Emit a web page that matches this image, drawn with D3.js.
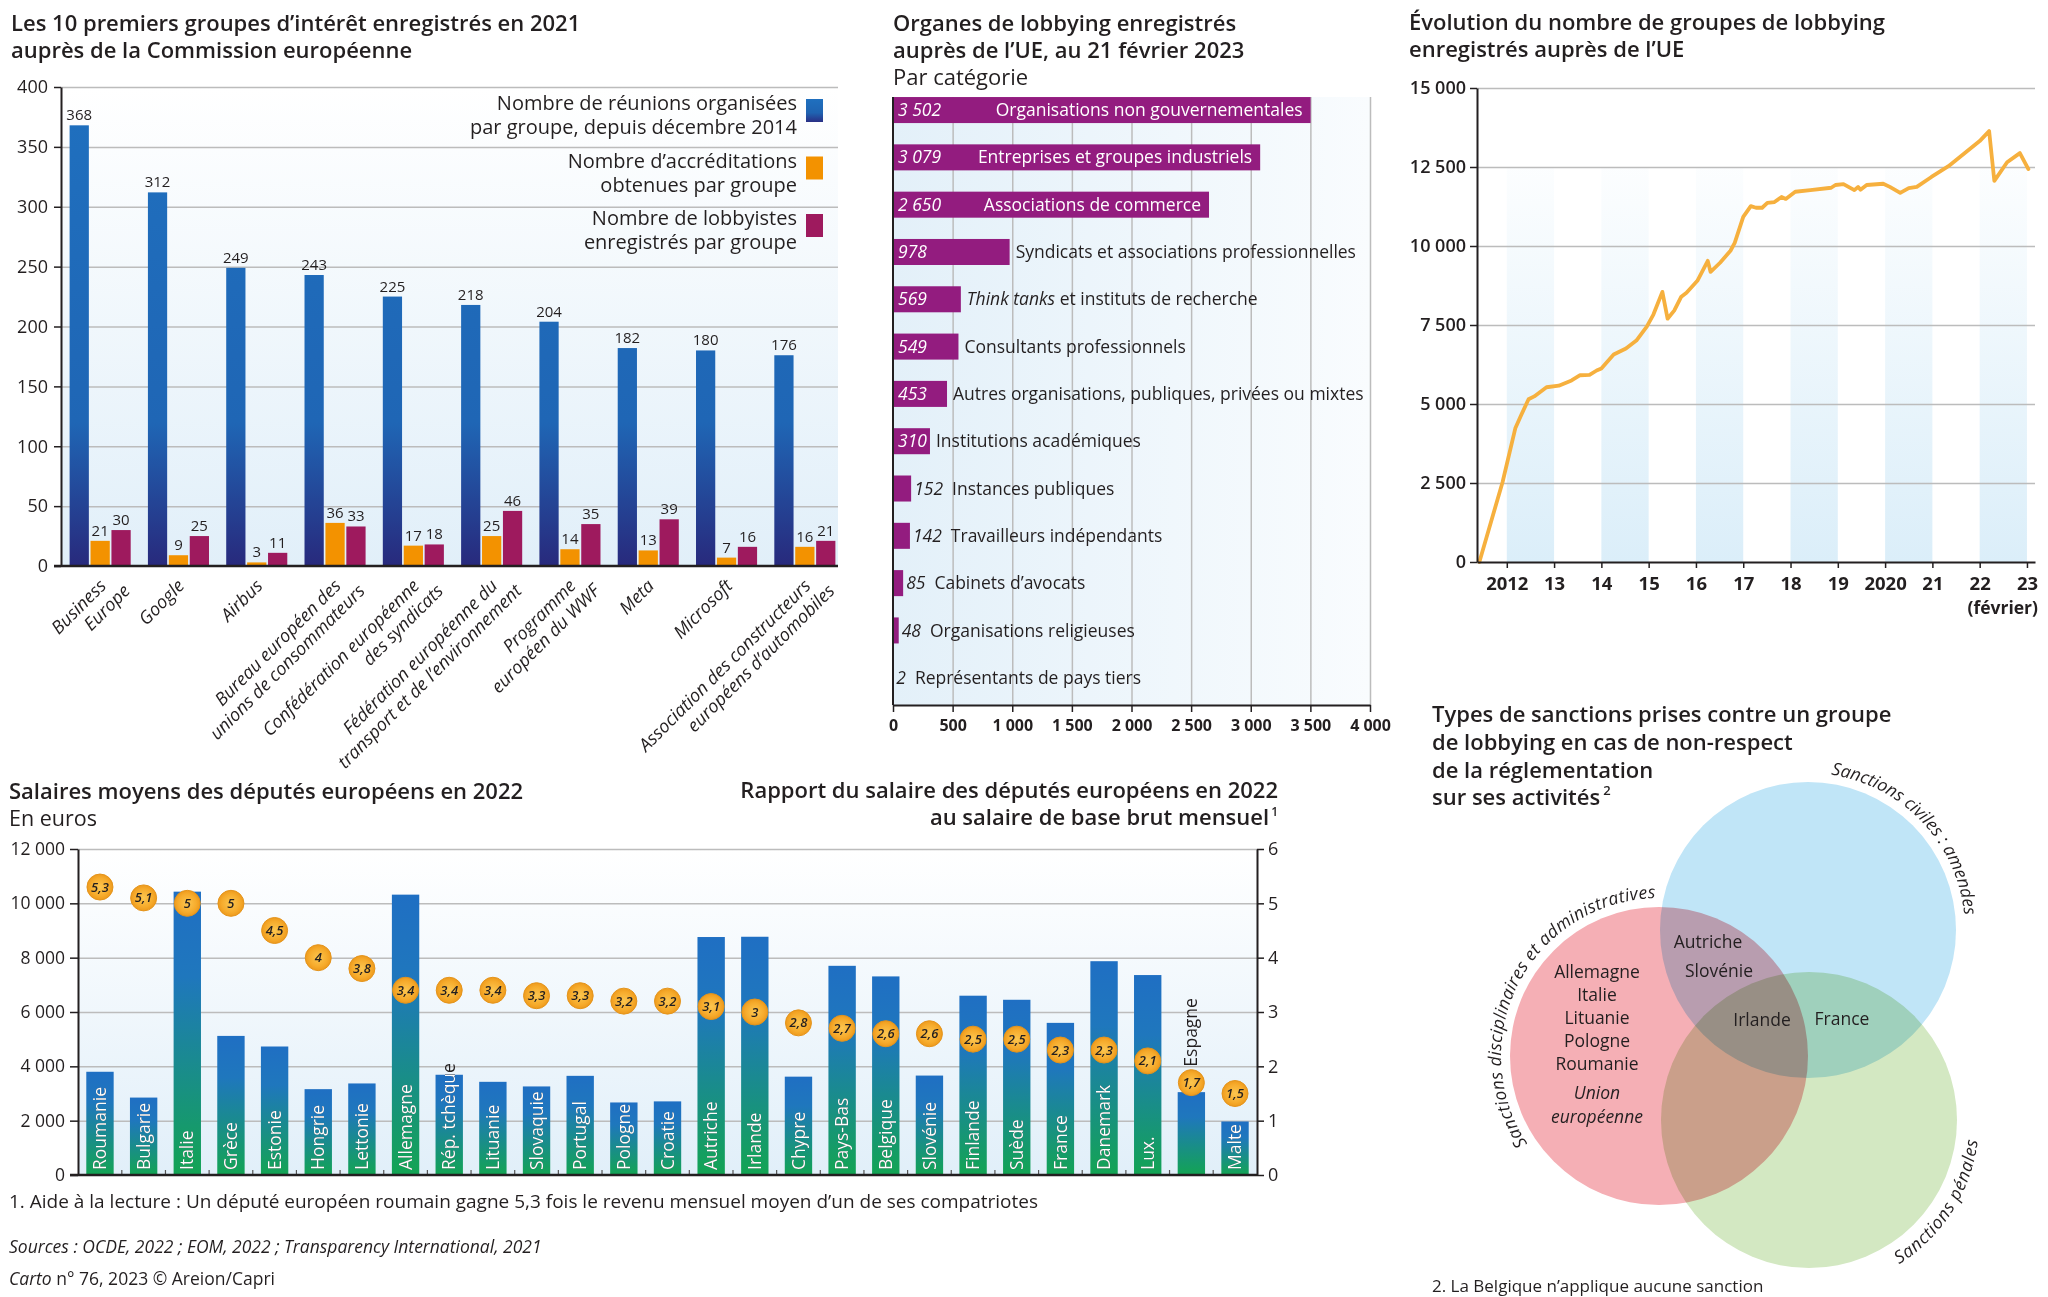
<!DOCTYPE html>
<html lang="fr">
<head>
<meta charset="utf-8">
<title>Lobbying et institutions européennes</title>
<script src="https://d3js.org/d3.v7.min.js"></script>
<style>
  body { margin: 0; background: #fff; }
  svg { display: block; }
</style>
</head>
<body>
<svg id="chart" width="2048" height="1297"></svg>
<script>
// ---- données : 10 premiers groupes d'intérêt (2021)
var groupLabels = [
  ["Business", "Europe"], ["Google"], ["Airbus"],
  ["Bureau européen des", "unions de consommateurs"],
  ["Confédération européenne", "des syndicats"],
  ["Fédération européenne du", "transport et de l’environnement"],
  ["Programme", "européen du WWF"], ["Meta"], ["Microsoft"],
  ["Association des constructeurs", "européens d’automobiles"]
];
var reunions       = [368, 312, 249, 243, 225, 218, 204, 182, 180, 176];
var accreditations = [21, 9, 3, 36, 17, 25, 14, 13, 7, 16];
var lobbyistes     = [30, 25, 11, 33, 18, 46, 35, 39, 16, 21];
var legendLabels = [
  ["Nombre de réunions organisées", "par groupe, depuis décembre 2014"],
  ["Nombre d’accréditations", "obtenues par groupe"],
  ["Nombre de lobbyistes", "enregistrés par groupe"]
];

// ---- données : organes de lobbying par catégorie (21 février 2023)
var categories = [
  "Organisations non gouvernementales", "Entreprises et groupes industriels",
  "Associations de commerce", "Syndicats et associations professionnelles",
  "Think tanks et instituts de recherche", "Consultants professionnels",
  "Autres organisations, publiques, privées ou mixtes", "Institutions académiques",
  "Instances publiques", "Travailleurs indépendants", "Cabinets d’avocats",
  "Organisations religieuses", "Représentants de pays tiers"
];
var categoryCounts = [3502, 3079, 2650, 978, 569, 549, 453, 310, 152, 142, 85, 48, 2];

// ---- données : évolution du nombre de groupes enregistrés
var lineYears = [2011.42, 2011.91, 2012.18, 2012.31, 2012.46, 2012.58, 2012.84, 2013.1, 2013.37,
  2013.55, 2013.75, 2013.9, 2014.0, 2014.26, 2014.52, 2014.74, 2014.96, 2015.1, 2015.29, 2015.4,
  2015.54, 2015.69, 2015.8, 2016.03, 2016.25, 2016.31, 2016.51, 2016.73, 2016.82, 2017.0, 2017.16,
  2017.27, 2017.4, 2017.51, 2017.66, 2017.81, 2017.9, 2018.1, 2018.42, 2018.86, 2018.95, 2019.12,
  2019.35, 2019.43, 2019.48, 2019.61, 2019.96, 2020.1, 2020.32, 2020.5, 2020.67, 2020.98, 2021.34,
  2022.0, 2022.2, 2022.31, 2022.58, 2022.85, 2023.03];
var lineCounts = [0, 2525, 4230, 4670, 5150, 5240, 5530, 5580, 5745,
  5910, 5920, 6060, 6125, 6565, 6755, 7007, 7450, 7830, 8548, 7700,
  7955, 8397, 8523, 8900, 9530, 9180, 9470, 9850, 10100, 10920, 11260,
  11210, 11210, 11363, 11390, 11553, 11490, 11717, 11767, 11843, 11930, 11957,
  11767, 11870, 11780, 11930, 11970, 11870, 11680, 11830, 11870, 12185, 12525,
  13320, 13636, 12060, 12650, 12940, 12436];
var yearTicks = [2012, 2013, 2014, 2015, 2016, 2017, 2018, 2019, 2020, 2021, 2022, 2023];
var yearTickLabels = ["2012", "13", "14", "15", "16", "17", "18", "19", "2020", "21", "22", "23"];

// ---- données : salaires des députés européens (2022)
var countries = ["Roumanie", "Bulgarie", "Italie", "Grèce", "Estonie", "Hongrie", "Lettonie",
  "Allemagne", "Rép. tchèque", "Lituanie", "Slovaquie", "Portugal", "Pologne", "Croatie",
  "Autriche", "Irlande", "Chypre", "Pays-Bas", "Belgique", "Slovénie", "Finlande", "Suède",
  "France", "Danemark", "Lux.", "Espagne", "Malte"];
var salaires = [3800, 2850, 10430, 5120, 4730, 3160, 3370, 10320, 3690, 3430, 3260, 3650, 2670,
  2710, 8760, 8770, 3620, 7700, 7310, 3660, 6600, 6450, 5600, 7870, 7360, 3050, 1970];
var ratios = [5.3, 5.1, 5, 5, 4.5, 4, 3.8, 3.4, 3.4, 3.4, 3.3, 3.3, 3.2, 3.2, 3.1, 3, 2.8, 2.7,
  2.6, 2.6, 2.5, 2.5, 2.3, 2.3, 2.1, 1.7, 1.5];

// ---- données : types de sanctions
var sanctionSets = ["Sanctions civiles : amendes", "Sanctions disciplinaires et administratives", "Sanctions pénales"];
var onlyDisciplinary = ["Allemagne", "Italie", "Lituanie", "Pologne", "Roumanie"];
var onlyDisciplinaryItalic = ["Union", "européenne"];
var disciplinaryCivil = ["Autriche", "Slovénie"];
var allThree = ["Irlande"];
var civilPenal = ["France"];

var FONT = '"Open Sans", "Noto Sans", "DejaVu Sans", sans-serif';
var INK = "#231f20";
var fr = d3.formatLocale({decimal: ",", thousands: "\u00a0", grouping: [3], currency: ["", " €"]});
var fmtInt = fr.format(",d");
var fmtDec = fr.format(",");

var svg = d3.select("#chart").attr("font-family", FONT);
var defs = svg.append("defs");
svg.append("rect").attr("width", 2048).attr("height", 1297).attr("fill", "#fff");

function linGrad(id, x1, y1, x2, y2, stops, user) {
  var g = defs.append("linearGradient").attr("id", id)
    .attr("x1", x1).attr("y1", y1).attr("x2", x2).attr("y2", y2);
  if (user) g.attr("gradientUnits", "userSpaceOnUse");
  stops.forEach(function(s) {
    g.append("stop").attr("offset", s[0]).attr("stop-color", s[1])
      .attr("stop-opacity", s.length > 2 ? s[2] : 1);
  });
}
linGrad("bgV", 0, 0, 0, 1, [[0, "#ffffff"], [1, "#e1eff9"]]);
linGrad("bgH", 0, 0, 1, 0, [[0, "#e3f0f9"], [1, "#f9fcfe"]]);
linGrad("blueA", 0, 566, 0, 87, [[0, "#28297c"], [0.3, "#1f66b5"], [1, "#1f70bf"]], true);
linGrad("blueLeg", 0, 0, 0, 1, [[0, "#1f70bf"], [0.6, "#1f63b1"], [1, "#2a2f85"]]);
linGrad("salG", 0, 0, 0, 1, [[0, "#1f6fc3"], [0.3, "#1f77bd"], [1, "#13a453"]]);
linGrad("bandG", 0, 130, 0, 562, [[0, "#dbeef9", 0], [1, "#dbeef9", 1]], true);
var rg = defs.append("radialGradient").attr("id", "circG");
rg.append("stop").attr("offset", 0).attr("stop-color", "#fcc650");
rg.append("stop").attr("offset", 0.7).attr("stop-color", "#f6ab2c");
rg.append("stop").attr("offset", 1).attr("stop-color", "#ee9a1c");

function styleAxis(g, size, weight) {
  g.attr("font-family", FONT).attr("font-size", size).attr("font-weight", weight || 400);
  g.select(".domain").attr("stroke", INK).attr("stroke-width", 2);
  g.selectAll(".tick line").attr("stroke", INK).attr("stroke-width", 1.5);
  g.selectAll(".tick text").attr("fill", INK);
}
function gridStyle(g) {
  g.select(".domain").remove();
  g.selectAll(".tick line").attr("stroke", "#bcbcbc").attr("stroke-width", 1.5);
}
function titleLines(lines, x, y0, lh, anchor) {
  var t = svg.append("g").attr("fill", INK).attr("font-size", 22).attr("font-weight", 600)
    .attr("text-anchor", anchor || "start");
  lines.forEach(function(l, i) { t.append("text").attr("x", x).attr("y", y0 + i * lh).text(l); });
  return t;
}

// =============== 1. Groupes d'intérêt ===============
(function() {
  var L = 61, R = 844, T = 87, B = 566, gridR = 838;
  titleLines(["Les 10 premiers groupes d’intérêt enregistrés en 2021", "auprès de la Commission européenne"], 11, 31, 27);
  var x = d3.scaleBand().domain(d3.range(groupLabels.length)).range([L, R]).paddingInner(0.22).paddingOuter(0.11);
  var xs = d3.scaleBand().domain([0, 1, 2]).range([0, x.bandwidth()]).paddingInner(0.08);
  var y = d3.scaleLinear().domain([0, 400]).range([B, T]);
  var series = [reunions, accreditations, lobbyistes];
  var fills = ["url(#blueA)", "#f39200", "#9e1a5e"];
  var legFills = ["url(#blueLeg)", "#f39200", "#9e1a5e"];
  var g = svg.append("g");
  g.append("rect").attr("x", L).attr("y", T).attr("width", gridR - L).attr("height", B - T).attr("fill", "url(#bgV)");
  g.append("g").attr("transform", "translate(" + L + ",0)")
    .call(d3.axisLeft(y).tickValues(d3.range(50, 401, 50)).tickSize(-(gridR - L)).tickFormat(""))
    .call(gridStyle);

  series.forEach(function(vals, s) {
    g.append("g").selectAll("rect").data(vals).enter().append("rect")
      .attr("x", function(d, i) { return x(i) + xs(s); })
      .attr("y", function(d) { return y(d); })
      .attr("width", xs.bandwidth())
      .attr("height", function(d) { return y(0) - y(d); })
      .attr("fill", fills[s]);
    g.append("g").attr("font-size", 15).attr("fill", INK).attr("text-anchor", "middle")
      .selectAll("text").data(vals).enter().append("text")
      .attr("x", function(d, i) { return x(i) + xs(s) + xs.bandwidth() / 2; })
      .attr("y", function(d) { return y(d) - 5; })
      .text(function(d) { return d; });
  });

  g.append("g").attr("transform", "translate(" + L + ",0)")
    .call(d3.axisLeft(y).tickValues(d3.range(0, 401, 50)).tickSize(7).tickSizeOuter(0).tickPadding(6))
    .call(styleAxis, 18);
  g.append("line").attr("x1", L - 7).attr("x2", gridR).attr("y1", B).attr("y2", B)
    .attr("stroke", INK).attr("stroke-width", 2.5);

  // légende
  var leg = g.append("g").attr("font-size", 20).attr("fill", INK);
  legendLabels.forEach(function(lines, i) {
    var top = 99 + i * 57.5;
    leg.append("rect").attr("x", 806).attr("y", top).attr("width", 17).attr("height", 23).attr("fill", legFills[i]);
    lines.forEach(function(l, j) {
      leg.append("text").attr("x", 797).attr("y", top + 11 + j * 24).attr("text-anchor", "end").text(l);
    });
  });

  // libellés inclinés
  var lab = g.append("g").attr("font-size", 18).attr("font-style", "italic").attr("fill", INK).attr("text-anchor", "end");
  groupLabels.forEach(function(lines, i) {
    var cx = x(i) + x.bandwidth() / 2 + 7;
    lines.forEach(function(l, j) {
      lab.append("text").attr("transform", "translate(" + (cx + j * 24) + "," + (587 + j * 5) + ") rotate(-45)").text(l);
    });
  });
})();

// =============== 2. Organes par catégorie ===============
(function() {
  var L = 893, R = 1370, T = 97, B = 705;
  titleLines(["Organes de lobbying enregistrés", "auprès de l’UE, au 21 février 2023"], L, 31, 27);
  svg.append("text").attr("x", L).attr("y", 85).attr("font-size", 22).attr("fill", INK).text("Par catégorie");
  var x = d3.scaleLinear().domain([0, 4000]).range([L, R]);
  var y = d3.scaleBand().domain(d3.range(categories.length)).range([86.4, 701.4]).paddingInner(0.45).paddingOuter(0.225);
  var g = svg.append("g");
  g.append("rect").attr("x", L).attr("y", T).attr("width", R - L).attr("height", B - T).attr("fill", "url(#bgH)");
  g.append("g").attr("transform", "translate(0," + B + ")")
    .call(d3.axisBottom(x).tickValues(d3.range(500, 4001, 500)).tickSize(-(B - T)).tickFormat(""))
    .call(gridStyle);
  g.append("g").attr("fill", "#931c7f").selectAll("rect").data(categoryCounts).enter().append("rect")
    .attr("x", x(0)).attr("y", function(d, i) { return y(i); })
    .attr("width", function(d) { return x(d) - x(0); }).attr("height", y.bandwidth());

  categoryCounts.forEach(function(v, i) {
    var cy = y(i) + y.bandwidth() / 2, end = x(v), big = v > 2000, mid = v >= 300;
    var val = g.append("text").attr("y", cy).attr("dy", "0.35em").attr("font-size", 17.5)
      .attr("font-style", "italic").text(fmtInt(v));
    var labX;
    if (mid) {
      val.attr("x", x(0) + 5).attr("fill", "#fff");
      labX = end + 6;
    } else {
      val.attr("x", end + 3).attr("fill", INK);
      labX = end + 3 + val.node().getComputedTextLength() + 9;
    }
    var lab = g.append("text").attr("y", cy).attr("dy", "0.35em").attr("font-size", 17.5)
      .attr("fill", big ? "#fff" : INK);
    if (big) lab.attr("x", end - 8).attr("text-anchor", "end");
    else lab.attr("x", labX);
    var name = categories[i];
    if (name.indexOf("Think tanks") === 0) {
      lab.append("tspan").attr("font-style", "italic").text("Think tanks");
      lab.append("tspan").text(name.slice(11));
    } else {
      lab.text(name);
    }
  });

  g.append("line").attr("x1", L).attr("x2", L).attr("y1", T).attr("y2", B).attr("stroke", INK).attr("stroke-width", 2);
  g.append("g").attr("transform", "translate(0," + B + ")")
    .call(d3.axisBottom(x).tickValues(d3.range(0, 4001, 500)).tickSize(7).tickSizeOuter(0).tickPadding(8).tickFormat(fmtInt))
    .call(styleAxis, 16, 700);
})();

// =============== 3. Évolution du nombre de groupes ===============
(function() {
  var L = 1477, R = 2035, T = 88, B = 562;
  titleLines(["Évolution du nombre de groupes de lobbying", "enregistrés auprès de l’UE"], 1409, 30, 27);
  var x = d3.scaleLinear().domain([2011.37, 2023.17]).range([L, R]);
  var y = d3.scaleLinear().domain([0, 15000]).range([B, T]);
  var g = svg.append("g");
  g.append("g").selectAll("rect").data(yearTicks.filter(function(d) { return d % 2 === 0; })).enter().append("rect")
    .attr("x", function(d) { return x(d); }).attr("width", function(d) { return x(d + 1) - x(d); })
    .attr("y", y(12500)).attr("height", B - y(12500)).attr("fill", "url(#bandG)");
  g.append("g").attr("transform", "translate(" + L + ",0)")
    .call(d3.axisLeft(y).tickValues(d3.range(2500, 15001, 2500)).tickSize(-(R - L)).tickFormat(""))
    .call(gridStyle);
  var line = d3.line().x(function(d, i) { return x(lineYears[i]); }).y(function(d) { return y(d); });
  g.append("path").datum(lineCounts).attr("d", line).attr("fill", "none")
    .attr("stroke", "#f6b03e").attr("stroke-width", 3.8).attr("stroke-linejoin", "round").attr("stroke-linecap", "round");
  g.append("g").attr("transform", "translate(" + L + ",0)")
    .call(d3.axisLeft(y).tickValues(d3.range(0, 15001, 2500)).tickSize(7).tickSizeOuter(0).tickPadding(4).tickFormat(fmtInt))
    .call(styleAxis, 18, 600);
  g.append("g").attr("transform", "translate(0," + B + ")")
    .call(d3.axisBottom(x).tickValues(yearTicks).tickSize(6).tickSizeOuter(0).tickPadding(9)
      .tickFormat(function(d, i) { return yearTickLabels[i]; }))
    .call(styleAxis, 18.5, 700);
  g.append("text").attr("x", 2038).attr("y", 614).attr("text-anchor", "end")
    .attr("font-size", 17.5).attr("font-weight", 700).attr("fill", INK).text("(février)");
})();

// =============== 4. Salaires des députés ===============
(function() {
  var L = 78, R = 1257, T = 849, B = 1175;
  titleLines(["Salaires moyens des députés européens en 2022"], 9, 799, 0);
  svg.append("text").attr("x", 9).attr("y", 826).attr("font-size", 21.5).attr("fill", INK).text("En euros");
  titleLines(["Rapport du salaire des députés européens en 2022"], 1278, 798, 0, "end");
  var sub = svg.append("text").attr("x", 1278).attr("y", 825).attr("text-anchor", "end").attr("font-size", 22)
    .attr("font-weight", 600).attr("fill", INK);
  sub.append("tspan").text("au salaire de base brut mensuel");
  sub.append("tspan").attr("font-size", 12).attr("dy", -9).attr("dx", 2).text("1");

  var x = d3.scaleBand().domain(countries).range([L, R]).paddingInner(0.373).paddingOuter(0.19);
  var yl = d3.scaleLinear().domain([0, 12000]).range([B, T]);
  var yr = d3.scaleLinear().domain([0, 6]).range([B, T]);
  var g = svg.append("g");
  g.append("rect").attr("x", L).attr("y", T).attr("width", R - L).attr("height", B - T).attr("fill", "url(#bgV)");
  g.append("g").attr("transform", "translate(" + L + ",0)")
    .call(d3.axisLeft(yl).tickValues(d3.range(2000, 12001, 2000)).tickSize(-(R - L)).tickFormat(""))
    .call(gridStyle);

  var bars = g.append("g");
  countries.forEach(function(c, i) {
    var bx = x(c), bw = x.bandwidth(), by = yl(salaires[i]), bh = B - by;
    bars.append("rect").attr("x", bx).attr("y", by).attr("width", bw).attr("height", bh).attr("fill", "url(#salG)");
    defs.append("clipPath").attr("id", "clipSal" + i)
      .append("rect").attr("x", bx).attr("y", by).attr("width", bw).attr("height", bh);
  });
  var labs = g.append("g").attr("font-size", 17.5);
  countries.forEach(function(c, i) {
    var cx = x(c) + x.bandwidth() / 2;
    var above = c === "Espagne";
    var y0 = above ? yr(ratios[i]) - 16 : B - 5;
    var tr = "translate(" + cx + "," + y0 + ") rotate(-90)";
    labs.append("text").attr("transform", tr).attr("dy", "0.35em").attr("fill", INK).text(c);
    if (!above) {
      labs.append("g").attr("clip-path", "url(#clipSal" + i + ")")
        .append("text").attr("transform", tr).attr("dy", "0.35em").attr("fill", "#fff").text(c);
    }
  });

  // petits repères entre les barres
  g.append("g").selectAll("line").data(countries.slice(1)).enter().append("line")
    .attr("x1", function(d) { return x(d) - x.step() * x.paddingInner() / 2; })
    .attr("x2", function(d) { return x(d) - x.step() * x.paddingInner() / 2; })
    .attr("y1", B).attr("y2", B - 5).attr("stroke", "#555").attr("stroke-width", 1.2);

  g.append("g").attr("transform", "translate(" + L + ",0)")
    .call(d3.axisLeft(yl).tickValues(d3.range(0, 12001, 2000)).tickSize(8).tickSizeOuter(0).tickPadding(5).tickFormat(fmtInt))
    .call(styleAxis, 17.5);
  g.append("g").attr("transform", "translate(" + R + ",0)")
    .call(d3.axisRight(yr).tickValues(d3.range(0, 7)).tickSize(7).tickSizeOuter(0).tickPadding(4).tickFormat(d3.format("d")))
    .call(styleAxis, 18);
  g.append("line").attr("x1", L - 8).attr("x2", R).attr("y1", B).attr("y2", B).attr("stroke", INK).attr("stroke-width", 2.5);

  var circ = g.append("g");
  circ.selectAll("circle").data(ratios).enter().append("circle")
    .attr("cx", function(d, i) { return x(countries[i]) + x.bandwidth() / 2; })
    .attr("cy", function(d) { return yr(d); }).attr("r", 13)
    .attr("fill", "url(#circG)").attr("stroke", "#e4941c").attr("stroke-width", 1);
  circ.selectAll("text").data(ratios).enter().append("text")
    .attr("x", function(d, i) { return x(countries[i]) + x.bandwidth() / 2; })
    .attr("y", function(d) { return yr(d); }).attr("dy", "0.35em")
    .attr("text-anchor", "middle").attr("font-size", 13).attr("font-weight", 600).attr("font-style", "italic").attr("fill", INK)
    .text(function(d) { return fmtDec(d); });

  svg.append("text").attr("x", 9).attr("y", 1208).attr("font-size", 19).attr("fill", INK)
    .text("1. Aide à la lecture : Un député européen roumain gagne 5,3 fois le revenu mensuel moyen d’un de ses compatriotes");
  svg.append("text").attr("x", 9).attr("y", 1253).attr("font-size", 17.5).attr("font-style", "italic").attr("fill", INK)
    .text("Sources : OCDE, 2022 ; EOM, 2022 ; Transparency International, 2021");
  var carto = svg.append("text").attr("x", 9).attr("y", 1285).attr("font-size", 17.5).attr("fill", INK);
  carto.append("tspan").attr("font-style", "italic").text("Carto");
  carto.append("tspan").text(" n° 76, 2023 © Areion/Capri");
})();

// =============== 5. Types de sanctions ===============
(function() {
  var t = titleLines(["Types de sanctions prises contre un groupe", "de lobbying en cas de non-respect",
    "de la réglementation"], 1432, 722, 28);
  var last = t.append("text").attr("x", 1432).attr("y", 805);
  last.append("tspan").text("sur ses activités");
  last.append("tspan").attr("font-size", 13).attr("dy", -10).attr("dx", 3).text("2");

  var circles = [
    {cx: 1808, cy: 930, r: 148, fill: "#c0e5f7"},
    {cx: 1659, cy: 1056, r: 149, fill: "#f5afb5"},
    {cx: 1809, cy: 1120, r: 148, fill: "#d3e8c2"}
  ];
  var g = svg.append("g").style("isolation", "isolate");
  g.selectAll("circle").data(circles).enter().append("circle")
    .attr("cx", function(d) { return d.cx; }).attr("cy", function(d) { return d.cy; })
    .attr("r", function(d) { return d.r; }).attr("fill", function(d) { return d.fill; })
    .style("mix-blend-mode", "multiply");

  // texte courbe : chaque lettre est posée le long de l'arc
  function arcText(str, c, R, a0, a1, clockwise, size) {
    var tmp = svg.append("text").attr("font-size", size).attr("font-style", "italic").text(str);
    var node = tmp.node(), total = node.getComputedTextLength();
    var widths = str.split("").map(function(ch, i) { return node.getSubStringLength(i, 1); });
    tmp.remove();
    var arcLen = Math.abs(a1 - a0) * Math.PI / 180 * R;
    var extra = (arcLen - total) / (str.length - 1);
    var dir = clockwise ? 1 : -1, pos = 0;
    var tg = svg.append("g").attr("font-size", size).attr("font-style", "italic").attr("fill", INK)
      .attr("text-anchor", "middle");
    str.split("").forEach(function(ch, i) {
      var ang = a0 + dir * ((pos + widths[i] / 2) / R) * 180 / Math.PI;
      var rad = ang * Math.PI / 180;
      var px = c.cx + R * Math.sin(rad), py = c.cy - R * Math.cos(rad);
      if (ch !== " ") {
        tg.append("text").attr("transform", "translate(" + px + "," + py + ") rotate(" + (clockwise ? ang : ang + 180) + ")")
          .text(ch);
      }
      pos += widths[i] + extra;
    });
  }
  arcText(sanctionSets[0], circles[0], 157, 8.4, 84.5, true, 17.5);
  arcText(sanctionSets[1], circles[1], 158, 236.3, 358.5, true, 17.5);
  arcText(sanctionSets[2], circles[2], 170, 148, 97, false, 17.5);

  var lab = svg.append("g").attr("font-size", 17.5).attr("fill", INK).attr("text-anchor", "middle");
  onlyDisciplinary.forEach(function(n, i) { lab.append("text").attr("x", 1597).attr("y", 978 + i * 23).text(n); });
  onlyDisciplinaryItalic.forEach(function(n, i) {
    lab.append("text").attr("x", 1597).attr("y", 1099 + i * 24).attr("font-style", "italic").text(n);
  });
  disciplinaryCivil.forEach(function(n, i) { lab.append("text").attr("x", 1708 + i * 11).attr("y", 948 + i * 29).text(n); });
  lab.append("text").attr("x", 1762).attr("y", 1026).text(allThree[0]);
  lab.append("text").attr("x", 1842).attr("y", 1025).text(civilPenal[0]);

  svg.append("text").attr("x", 1432).attr("y", 1292).attr("font-size", 17).attr("fill", INK)
    .text("2. La Belgique n’applique aucune sanction");
})();
</script>
</body>
</html>
